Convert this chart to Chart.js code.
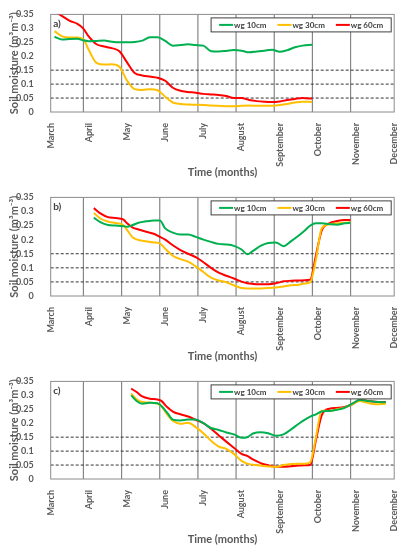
<!DOCTYPE html>
<html>
<head>
<meta charset="utf-8">
<script src="https://cdn.jsdelivr.net/npm/chart.js@4.4.1/dist/chart.umd.min.js"></script>
<style>
  html, body { margin: 0; padding: 0; background: #fff; overflow: hidden; }
  .panel { position: relative; width: 408px; }
</style>
</head>
<body>
<div class="panel" style="height:183px"><canvas id="chartA"></canvas></div>
<div class="panel" style="height:184px"><canvas id="chartB"></canvas></div>
<div class="panel" style="height:183px"><canvas id="chartC"></canvas></div>
<script>
// month labels (x axis), one unit = one month from March
var months = ['March', 'April', 'May', 'June', 'July', 'August', 'September', 'October', 'November', 'December'];
var seriesNames = ['wg 10cm', 'wg 30cm', 'wg 60cm'];
var seriesColors = ['#00b050', '#ffc000', '#ff0000'];
var panelTags = ['a)', 'b)', 'c)'];
var refLines = [0.05, 0.1, 0.15];

// panel a
var xA = [0.1, 0.3, 0.5, 0.7, 0.85, 1.0, 1.2, 1.4, 1.6, 1.8, 2.0, 2.2, 2.4, 2.6, 2.8, 3.0, 3.2, 3.4, 3.6, 3.8,
          4.0, 4.2, 4.4, 4.6, 4.8, 5.0, 5.2, 5.4, 5.6, 5.8, 6.0, 6.2, 6.4, 6.6, 6.85];
var a10 = [0.27, 0.26, 0.262, 0.263, 0.257, 0.254, 0.255, 0.256, 0.252, 0.25, 0.25, 0.251, 0.256, 0.268, 0.268,
           0.255, 0.238, 0.24, 0.243, 0.24, 0.238, 0.218, 0.217, 0.219, 0.222, 0.22, 0.214, 0.217, 0.22, 0.223,
           0.216, 0.222, 0.232, 0.238, 0.241];
var a30 = [0.29, 0.271, 0.267, 0.267, 0.262, 0.222, 0.176, 0.17, 0.171, 0.162, 0.113, 0.082, 0.079, 0.082, 0.078,
           0.055, 0.034, 0.029, 0.027, 0.026, 0.025, 0.023, 0.022, 0.021, 0.021, 0.022, 0.023, 0.022, 0.022, 0.022,
           0.025, 0.029, 0.034, 0.037, 0.036];
var a60 = [0.362, 0.344, 0.327, 0.316, 0.3, 0.27, 0.243, 0.235, 0.229, 0.218, 0.178, 0.14, 0.131, 0.127, 0.123,
           0.112, 0.087, 0.076, 0.072, 0.069, 0.065, 0.063, 0.061, 0.057, 0.05, 0.05, 0.043, 0.039, 0.037, 0.036,
           0.038, 0.043, 0.047, 0.05, 0.048];

// panel b
var xB = [1.13, 1.3, 1.5, 1.7, 1.9, 2.0, 2.15, 2.3, 2.5, 2.7, 2.86, 3.0, 3.2, 3.4, 3.6, 3.8, 4.0, 4.2, 4.4, 4.6,
          4.8, 5.0, 5.15, 5.3, 5.5, 5.7, 5.9, 6.1, 6.3, 6.5, 6.65, 6.8, 6.95, 7.1, 7.3, 7.5, 7.7, 7.85];
var b10 = [0.278, 0.262, 0.252, 0.25, 0.248, 0.246, 0.252, 0.26, 0.265, 0.268, 0.268, 0.24, 0.225, 0.218, 0.218,
           0.21, 0.2, 0.192, 0.185, 0.183, 0.178, 0.165, 0.148, 0.16, 0.178, 0.188, 0.19, 0.177, 0.195, 0.215,
           0.232, 0.25, 0.258, 0.258, 0.255, 0.253, 0.258, 0.26];
var b30 = [0.295, 0.275, 0.264, 0.259, 0.252, 0.235, 0.208, 0.199, 0.194, 0.19, 0.187, 0.168, 0.143, 0.131, 0.122,
           0.105, 0.085, 0.065, 0.055, 0.049, 0.038, 0.028, 0.027, 0.027, 0.027, 0.028, 0.03, 0.034, 0.038, 0.04,
           0.044, 0.049, 0.13, 0.24, 0.255, 0.258, 0.26, 0.262];
var b60 = [0.312, 0.293, 0.28, 0.277, 0.272, 0.258, 0.243, 0.236, 0.228, 0.221, 0.21, 0.2, 0.18, 0.163, 0.15,
           0.138, 0.12, 0.1, 0.083, 0.072, 0.062, 0.051, 0.045, 0.043, 0.042, 0.042, 0.045, 0.052, 0.054, 0.055,
           0.056, 0.058, 0.145, 0.232, 0.258, 0.266, 0.27, 0.27];

// panel c
var xC = [2.11, 2.25, 2.4, 2.6, 2.8, 2.9, 3.05, 3.2, 3.4, 3.6, 3.8, 4.0, 4.2, 4.4, 4.6, 4.8, 5.0, 5.15, 5.3, 5.5,
          5.7, 5.9, 6.1, 6.3, 6.5, 6.65, 6.8, 6.95, 7.1, 7.3, 7.5, 7.7, 7.9, 8.1, 8.3, 8.5, 8.78];
var c10 = [0.3, 0.28, 0.27, 0.273, 0.272, 0.262, 0.238, 0.213, 0.21, 0.213, 0.213, 0.2, 0.183, 0.176, 0.167,
           0.16, 0.148, 0.15, 0.163, 0.168, 0.164, 0.155, 0.16, 0.178, 0.198, 0.212, 0.224, 0.232, 0.242, 0.244,
           0.248, 0.255, 0.27, 0.283, 0.28, 0.277, 0.275];
var c30 = [0.306, 0.286, 0.276, 0.274, 0.27, 0.262, 0.232, 0.209, 0.198, 0.202, 0.186, 0.164, 0.137, 0.116, 0.108,
           0.09, 0.065, 0.055, 0.051, 0.048, 0.045, 0.043, 0.05, 0.054, 0.055, 0.055, 0.06, 0.15, 0.245, 0.244,
           0.25, 0.256, 0.268, 0.28, 0.273, 0.268, 0.27];
var c60 = [0.324, 0.312, 0.296, 0.288, 0.285, 0.28, 0.258, 0.242, 0.232, 0.224, 0.212, 0.2, 0.18, 0.157, 0.134,
           0.112, 0.09, 0.083, 0.07, 0.057, 0.049, 0.044, 0.044, 0.046, 0.048, 0.049, 0.05, 0.14, 0.228, 0.252,
           0.255, 0.258, 0.268, 0.283, 0.28, 0.277, 0.276];

// month gridlines sit a little left of their labels in the original
var gridShift = 0.143;
var textGray = '#595959';

Chart.defaults.font.family = 'Lato';

function toPoints(xs, ys) {
    return xs.map(function (x, i) { return { x: x, y: ys[i] }; });
}

var framePlugin = {
    id: 'frame',
    beforeDatasetsDraw: function (chart) {
        var ctx = chart.ctx, a = chart.chartArea;
        var xs = chart.scales.x, ys = chart.scales.y;
        ctx.save();
        var shift = (xs.getPixelForValue(1) - xs.getPixelForValue(0)) * gridShift;
        ctx.strokeStyle = '#858585';
        ctx.lineWidth = 1.2;
        for (var m = 1; m < months.length - 1; m++) {
            var px = xs.getPixelForValue(m) - shift;
            ctx.beginPath();
            ctx.moveTo(px, a.top);
            ctx.lineTo(px, a.bottom);
            ctx.stroke();
        }
        ctx.strokeStyle = '#333';
        ctx.lineWidth = 1;
        ctx.setLineDash([3, 2]);
        refLines.forEach(function (v) {
            var py = ys.getPixelForValue(v);
            ctx.beginPath();
            ctx.moveTo(a.left, py);
            ctx.lineTo(a.right, py);
            ctx.stroke();
        });
        ctx.setLineDash([]);
        ctx.strokeStyle = '#8c8c8c';
        ctx.strokeRect(a.left, a.top, a.right - a.left, a.bottom - a.top);
        ctx.restore();
    },
    afterDatasetsDraw: function (chart) {
        var ctx = chart.ctx, a = chart.chartArea;
        ctx.save();
        // panel tag
        ctx.font = 'bold 10px Lato';
        ctx.fillStyle = '#404040';
        ctx.textBaseline = 'middle';
        ctx.textAlign = 'left';
        ctx.fillText(chart.options.plugins.frame.tag, a.left + 2.5, a.top + 9.5);

        // legend box
        ctx.font = 'bold 8px Lato';
        var sets = chart.data.datasets;
        var widths = sets.map(function (d) { return ctx.measureText(d.label).width; });
        var boxW = 8 + 8;
        widths.forEach(function (w) { boxW += 15 + w; });
        boxW += 11 * (sets.length - 1);
        var boxH = 14;
        var boxL = a.right - 3 - boxW, boxT = a.top + 3.5;
        ctx.fillStyle = '#fff';
        ctx.fillRect(boxL, boxT, boxW, boxH);
        ctx.strokeStyle = '#404040';
        ctx.lineWidth = 1;
        ctx.strokeRect(boxL, boxT, boxW, boxH);
        var cx = boxL + 8, cy = boxT + boxH / 2;
        sets.forEach(function (d, i) {
            ctx.strokeStyle = d.borderColor;
            ctx.lineWidth = 2;
            ctx.beginPath();
            ctx.moveTo(cx, cy);
            ctx.lineTo(cx + 14, cy);
            ctx.stroke();
            ctx.fillStyle = '#404040';
            ctx.fillText(d.label, cx + 15, cy + 0.5);
            cx += 15 + widths[i] + 11;
        });
        ctx.restore();
    }
};

function makePanel(id, tag, xs, s10, s30, s60) {
    var series = [s10, s30, s60];
    var datasets = series.map(function (s, i) {
        return {
            label: seriesNames[i],
            data: toPoints(xs, s),
            borderColor: seriesColors[i],
            borderWidth: 2,
            pointRadius: 0,
            fill: false,
            clip: 0,
            cubicInterpolationMode: 'monotone'
        };
    });

    return new Chart(document.getElementById(id), {
        type: 'line',
        data: { datasets: datasets },
        options: {
            responsive: true,
            maintainAspectRatio: false,
            animation: false,
            layout: { padding: { top: 11.7, right: 11.3, left: 0, bottom: 0 } },
            plugins: {
                legend: { display: false },
                tooltip: { enabled: false },
                frame: { tag: tag }
            },
            scales: {
                x: {
                    type: 'linear',
                    min: 0,
                    max: months.length - 1,
                    grid: { display: false },
                    border: { display: false },
                    ticks: {
                        stepSize: 1,
                        autoSkip: false,
                        minRotation: 90,
                        maxRotation: 90,
                        padding: 3,
                        color: textGray,
                        font: { size: 9, weight: 'bold' },
                        callback: function (v) { return months[v]; }
                    },
                    title: {
                        display: true,
                        text: 'Time (months)',
                        color: textGray,
                        font: { size: 11, weight: 'bold' },
                        padding: { top: 0, bottom: 3.7 }
                    },
                    afterFit: function (s) { s.height = 71; }
                },
                y: {
                    min: 0,
                    max: 0.35,
                    grid: { display: false },
                    border: { display: false },
                    ticks: {
                        stepSize: 0.05,
                        padding: 9,
                        color: textGray,
                        font: { size: 9, weight: 'bold' },
                        callback: function (v) { return String(+v.toFixed(2)); }
                    },
                    title: {
                        display: true,
                        text: 'Soil moisture (m³m⁻³)',
                        color: textGray,
                        font: { size: 11, weight: 'bold' },
                        padding: { top: 8, bottom: 0 }
                    },
                    afterFit: function (s) { s.width = 50.7; }
                }
            }
        },
        plugins: [framePlugin]
    });
}

makePanel('chartA', panelTags[0], xA, a10, a30, a60);
makePanel('chartB', panelTags[1], xB, b10, b30, b60);
makePanel('chartC', panelTags[2], xC, c10, c30, c60);
</script>
</body>
</html>
